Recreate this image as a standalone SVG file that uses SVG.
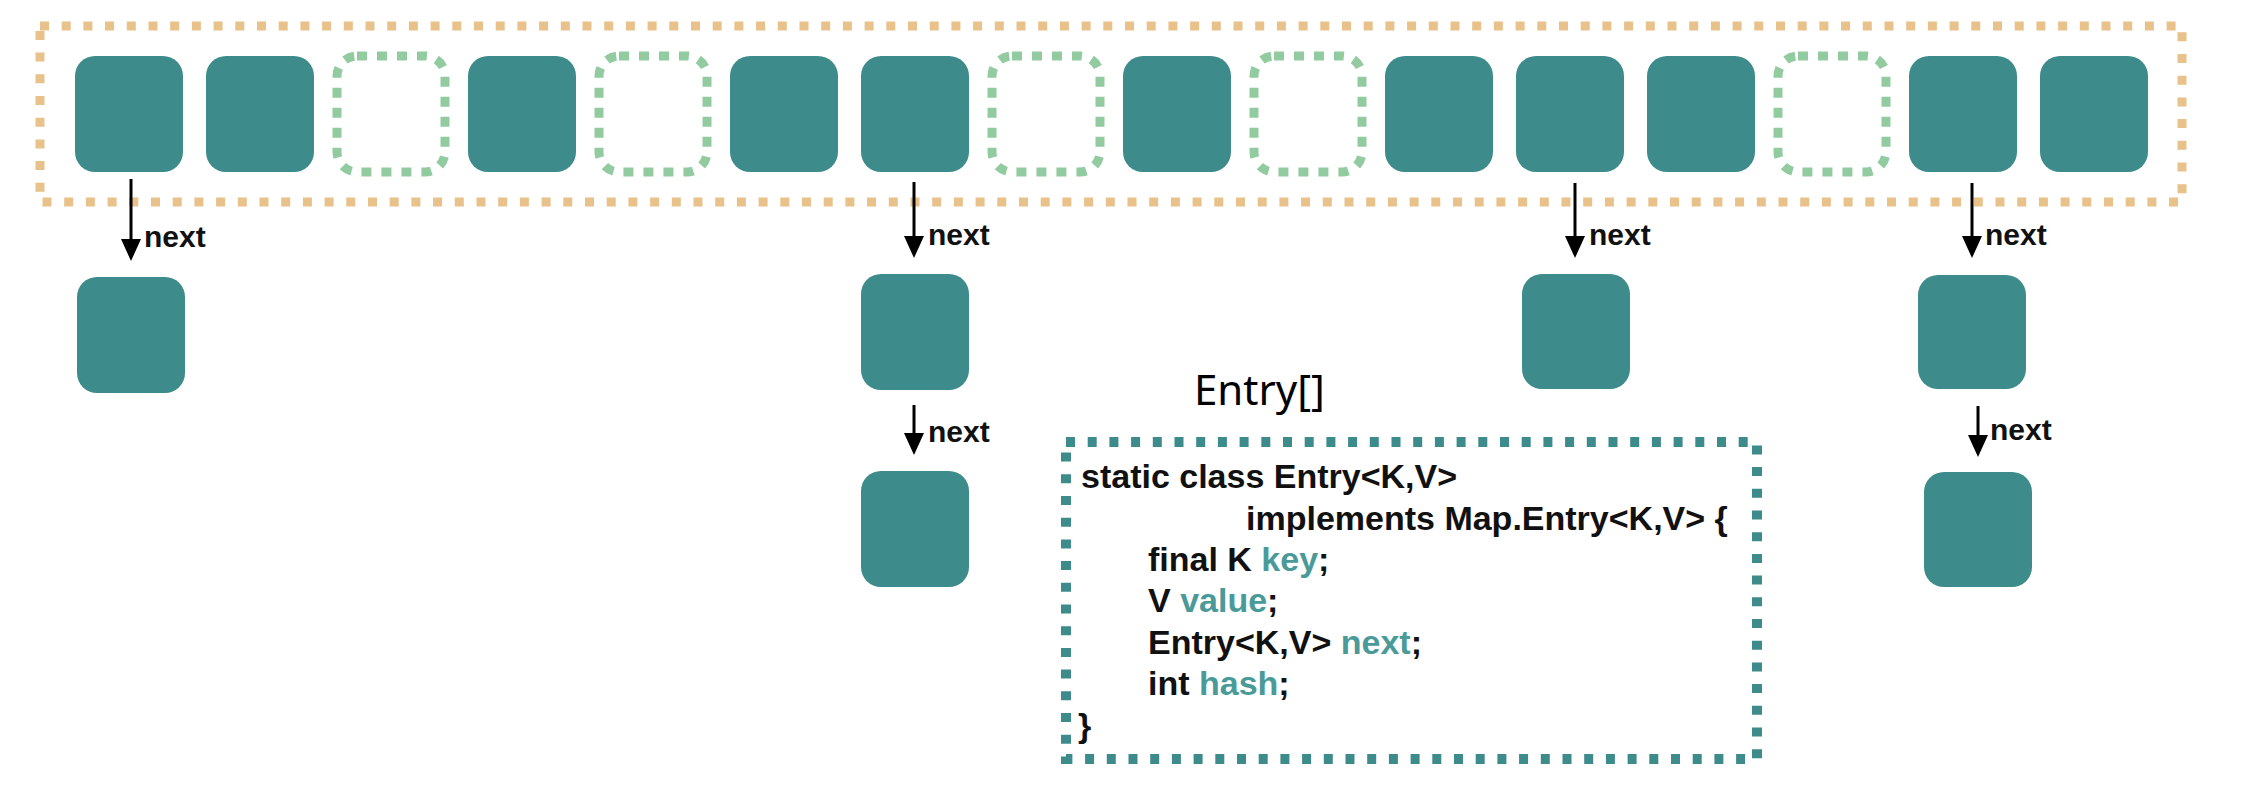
<svg xmlns="http://www.w3.org/2000/svg" width="2250" height="787" viewBox="0 0 2250 787">
<style>
.slot{fill:#3e8b8c}
.empty{fill:none;stroke:#93cba0;stroke-width:9;stroke-dasharray:10 10}
.outer{fill:none;stroke:#e8c18b;stroke-width:9;stroke-dasharray:9 12.7}
.code{fill:none;stroke:#3e8b8c;stroke-width:10;stroke-dasharray:9 12.7}
.arrow{stroke:#000;stroke-width:3;fill:none;marker-end:url(#ah)}
.lbl{font-family:"Liberation Sans",Arial,sans-serif;font-weight:bold;font-size:30px;fill:#111}
.src{font-family:"Liberation Sans",Arial,sans-serif;font-weight:bold;font-size:34px;fill:#111}
.hl{fill:#4a9a9a}
.title{font-family:"Noto Sans","Open Sans",sans-serif;font-size:42px;fill:#000}
</style>
<defs>
<marker id="ah" viewBox="0 0 22 20" markerWidth="22" markerHeight="20" refX="12" refY="10" orient="auto" markerUnits="userSpaceOnUse">
<path d="M0,0 L22,10 L0,20 Z" fill="#000"/>
</marker>
</defs>
<rect width="2250" height="787" fill="#fff"/>
<g id="table">
<rect class="outer" x="40" y="26" width="2142" height="176"/>
<g id="slots">
<rect id="s0" class="slot" x="75" y="56" width="108" height="116" rx="20"/>
<rect id="s1" class="slot" x="206" y="56" width="108" height="116" rx="20"/>
<rect id="s2" class="empty" x="337" y="56" width="108" height="116" rx="20"/>
<rect id="s3" class="slot" x="468" y="56" width="108" height="116" rx="20"/>
<rect id="s4" class="empty" x="599" y="56" width="108" height="116" rx="20"/>
<rect id="s5" class="slot" x="730" y="56" width="108" height="116" rx="20"/>
<rect id="s6" class="slot" x="861" y="56" width="108" height="116" rx="20"/>
<rect id="s7" class="empty" x="992" y="56" width="108" height="116" rx="20"/>
<rect id="s8" class="slot" x="1123" y="56" width="108" height="116" rx="20"/>
<rect id="s9" class="empty" x="1254" y="56" width="108" height="116" rx="20"/>
<rect id="s10" class="slot" x="1385" y="56" width="108" height="116" rx="20"/>
<rect id="s11" class="slot" x="1516" y="56" width="108" height="116" rx="20"/>
<rect id="s12" class="slot" x="1647" y="56" width="108" height="116" rx="20"/>
<rect id="s13" class="empty" x="1778" y="56" width="108" height="116" rx="20"/>
<rect id="s14" class="slot" x="1909" y="56" width="108" height="116" rx="20"/>
<rect id="s15" class="slot" x="2040" y="56" width="108" height="116" rx="20"/>
</g>
</g>
<g id="chain0"><rect class="slot" x="77" y="277" width="108" height="116" rx="20"/></g>
<g id="chain6a"><rect class="slot" x="861" y="274" width="108" height="116" rx="20"/></g>
<g id="chain6b"><rect class="slot" x="861" y="471" width="108" height="116" rx="20"/></g>
<g id="chain11"><rect class="slot" x="1522" y="274" width="108" height="115" rx="20"/></g>
<g id="chain14a"><rect class="slot" x="1918" y="275" width="108" height="114" rx="20"/></g>
<g id="chain14b"><rect class="slot" x="1924" y="472" width="108" height="115" rx="20"/></g>
<g id="connectors">
<line class="arrow" x1="131" y1="179" x2="131" y2="251"/>
<text class="lbl" x="144" y="247">next</text>
<line class="arrow" x1="914" y1="182" x2="914" y2="248"/>
<text class="lbl" x="928" y="245">next</text>
<line class="arrow" x1="914" y1="405" x2="914" y2="445"/>
<text class="lbl" x="928" y="442">next</text>
<line class="arrow" x1="1575" y1="183" x2="1575" y2="248"/>
<text class="lbl" x="1589" y="245">next</text>
<line class="arrow" x1="1972" y1="183" x2="1972" y2="248"/>
<text class="lbl" x="1985" y="245">next</text>
<line class="arrow" x1="1978" y1="406" x2="1978" y2="447"/>
<text class="lbl" x="1990" y="440">next</text>
</g>
<g id="entry">
<text class="title" x="1194" y="405">Entry[]</text>
<rect class="code" x="1066" y="442" width="691" height="317"/>
<text class="src" x="1081" y="488">static class Entry&lt;K,V&gt;</text>
<text class="src" x="1246" y="530">implements Map.Entry&lt;K,V&gt; {</text>
<text class="src" x="1148" y="571">final K <tspan class="hl">key</tspan>;</text>
<text class="src" x="1148" y="612">V <tspan class="hl">value</tspan>;</text>
<text class="src" x="1148" y="654">Entry&lt;K,V&gt; <tspan class="hl">next</tspan>;</text>
<text class="src" x="1148" y="695">int <tspan class="hl">hash</tspan>;</text>
<text class="src" x="1078" y="737">}</text>
</g>
</svg>
